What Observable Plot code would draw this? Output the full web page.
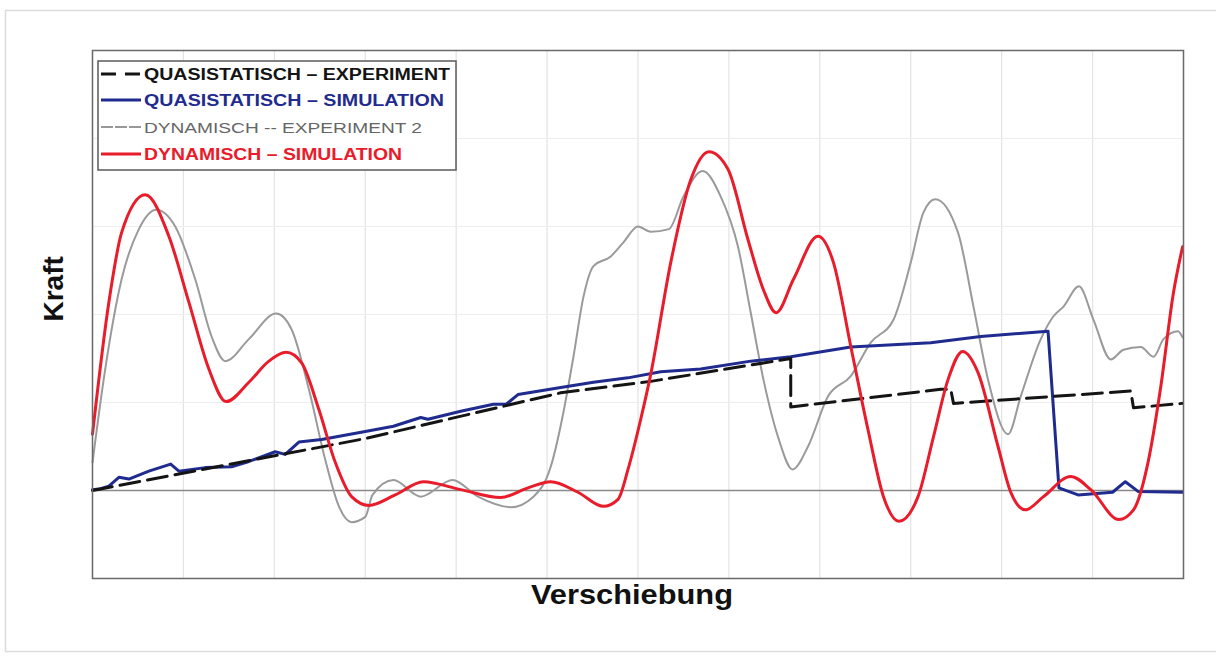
<!DOCTYPE html>
<html>
<head>
<meta charset="utf-8">
<script src="https://cdn.jsdelivr.net/npm/d3@7"></script>
<script src="https://cdn.jsdelivr.net/npm/@observablehq/plot@0.6"></script>
<style>
  html, body { margin: 0; padding: 0; background: #fff; }
  #chart { position: relative; width: 1216px; height: 658px; }
</style>
</head>
<body>
<div id="chart"></div>
<script>
// ---- data (x: Verschiebung in grid units, y: Kraft in grid units) ----
const seriesNames = [
  "QUASISTATISCH – EXPERIMENT",
  "QUASISTATISCH – SIMULATION",
  "DYNAMISCH -- EXPERIMENT 2",
  "DYNAMISCH – SIMULATION"
];
const xTicks = [0,1,2,3,4,5,6,7,8,9,10,11,12];
const yTicks = [-1,0,1,2,3,4,5];

const qsExpX = [0, 3.0, 5.15, 6.14, 7.68, 7.68, 9.33, 9.44, 9.47, 11.42, 11.45, 11.99];
const qsExpY = [0, 0.59, 1.11, 1.24, 1.50, 0.95, 1.15, 1.15, 0.99, 1.13, 0.94, 0.99];

const qsSimX = [0, 0.09, 0.18, 0.29, 0.40, 0.62, 0.86, 0.95, 1.24, 1.53, 1.72, 2.01, 2.12, 2.27, 2.52, 3.00, 3.31, 3.61, 3.69, 4.05, 4.41, 4.55, 4.68, 5.15, 5.51, 5.89, 6.25, 6.69, 7.24, 7.68, 8.34, 9.22, 9.77, 10.51, 10.63, 10.84, 11.22, 11.36, 11.50, 11.99];
const qsSimY = [0.01, 0.02, 0.05, 0.15, 0.13, 0.22, 0.30, 0.22, 0.26, 0.27, 0.33, 0.44, 0.41, 0.55, 0.58, 0.67, 0.73, 0.83, 0.81, 0.90, 0.98, 0.98, 1.09, 1.17, 1.23, 1.28, 1.35, 1.38, 1.47, 1.52, 1.63, 1.68, 1.75, 1.81, 0.03, -0.05, -0.02, 0.10, -0.01, -0.02];

const dynExpX = [0, 0.14, 0.32, 0.51, 0.70, 0.91, 1.13, 1.31, 1.46, 1.72, 2.02, 2.19, 2.38, 2.56, 2.71, 2.85, 3.00, 3.08, 3.31, 3.61, 3.96, 4.24, 4.60, 4.85, 5.04, 5.18, 5.29, 5.40, 5.51, 5.70, 5.84, 6.00, 6.14, 6.34, 6.50, 6.71, 6.91, 7.10, 7.24, 7.38, 7.54, 7.70, 7.87, 8.09, 8.34, 8.56, 8.81, 9.00, 9.14, 9.27, 9.52, 9.69, 9.85, 10.07, 10.21, 10.43, 10.57, 10.68, 10.85, 11.01, 11.20, 11.34, 11.53, 11.67, 11.78, 11.94, 11.99];
const dynExpY = [0.32, 1.38, 2.40, 2.97, 3.19, 3.00, 2.40, 1.75, 1.47, 1.72, 2.01, 1.83, 1.15, 0.35, -0.18, -0.36, -0.30, -0.05, 0.12, -0.07, 0.12, -0.07, -0.19, -0.07, 0.27, 0.89, 1.52, 2.20, 2.55, 2.66, 2.82, 3.00, 2.94, 2.97, 3.34, 3.63, 3.34, 2.77, 2.02, 1.26, 0.61, 0.24, 0.50, 1.07, 1.30, 1.68, 1.94, 2.59, 3.16, 3.31, 2.93, 2.09, 1.26, 0.64, 1.07, 1.72, 1.98, 2.09, 2.32, 1.94, 1.49, 1.60, 1.63, 1.52, 1.72, 1.81, 1.74];

const dynSimX = [0, 0.18, 0.32, 0.58, 0.84, 1.06, 1.28, 1.47, 1.72, 1.94, 2.13, 2.30, 2.49, 2.67, 2.85, 3.04, 3.33, 3.64, 4.05, 4.49, 4.79, 5.04, 5.34, 5.62, 5.78, 5.89, 6.03, 6.14, 6.36, 6.58, 6.78, 6.99, 7.21, 7.38, 7.52, 7.71, 7.98, 8.15, 8.34, 8.53, 8.70, 8.87, 9.08, 9.25, 9.41, 9.57, 9.74, 9.96, 10.10, 10.26, 10.46, 10.76, 10.98, 11.29, 11.45, 11.61, 11.75, 11.89, 11.99];
const dynSimY = [0.64, 2.14, 2.93, 3.36, 2.89, 2.14, 1.38, 1.01, 1.23, 1.47, 1.57, 1.45, 0.92, 0.32, -0.07, -0.17, -0.05, 0.10, 0.01, -0.08, 0.03, 0.10, -0.02, -0.18, -0.10, 0.24, 0.81, 1.32, 2.59, 3.53, 3.85, 3.65, 2.85, 2.28, 2.02, 2.40, 2.89, 2.59, 1.64, 0.69, -0.07, -0.35, -0.07, 0.61, 1.26, 1.58, 1.34, 0.50, -0.02, -0.22, -0.07, 0.16, 0.01, -0.33, -0.22, 0.32, 1.18, 2.25, 2.77];

const colors = ["#141414", "#1f2b8e", "#9a9a9a", "#e81c2a"];

const toRows = (xs, ys, s) => xs.map((x, i) => ({x, y: ys[i], s}));
const qsExp = toRows(qsExpX, qsExpY, seriesNames[0]);
const qsSim = toRows(qsSimX, qsSimY, seriesNames[1]);
const dynExp = toRows(dynExpX, dynExpY, seriesNames[2]);
const dynSim = toRows(dynSimX, dynSimY, seriesNames[3]);

const font = "'Liberation Sans', Arial, Helvetica, sans-serif";

const plot = Plot.plot({
  width: 1216,
  height: 658,
  marginLeft: 92,
  marginRight: 33,
  marginTop: 50,
  marginBottom: 80,
  style: {fontFamily: font, background: "white", overflow: "visible"},
  x: {domain: [0, 12], axis: null},
  y: {domain: [-1, 5], axis: null},
  marks: [
    Plot.gridX(xTicks, {stroke: "#e3e3e3", strokeOpacity: 1, strokeWidth: 1.2}),
    Plot.gridY(yTicks, {stroke: "#eeeeee", strokeOpacity: 1, strokeWidth: 1.2}),
    Plot.ruleY([0], {stroke: "#8a8a8a", strokeWidth: 1.6}),
    Plot.line(dynExp, {x: "x", y: "y", stroke: colors[2], strokeWidth: 2, curve: "monotone-x"}),
    Plot.line(qsSim, {x: "x", y: "y", stroke: colors[1], strokeWidth: 3, curve: "linear"}),
    Plot.line(qsExp, {x: "x", y: "y", stroke: colors[0], strokeWidth: 3, strokeDasharray: "20,8", curve: "linear"}),
    Plot.line(dynSim, {x: "x", y: "y", stroke: colors[3], strokeWidth: 3, curve: "monotone-x"}),
    Plot.frame({stroke: "#6a6a6a", strokeWidth: 1.5}),
    Plot.text(["Verschiebung"], {frameAnchor: "bottom", dx: -6, dy: 25, fontSize: 28, fontWeight: "bold", fill: "#111"}),
    Plot.text(["Kraft"], {frameAnchor: "left", dx: -38, dy: 7, rotate: -90, fontSize: 28, fontWeight: "bold", fill: "#111"})
  ]
});

document.getElementById("chart").appendChild(plot);

const svg = d3.select(plot);
// stretch axis label to match reference width
svg.selectAll("text").filter(function() { return this.textContent === "Verschiebung"; })
  .attr("textLength", 202).attr("lengthAdjust", "spacingAndGlyphs");

// outer light border
svg.insert("rect", ":first-child")
  .attr("x", 5.5).attr("y", 10.5).attr("width", 1216).attr("height", 641)
  .attr("fill", "none").attr("stroke", "#dcdcdc").attr("stroke-width", 1.5);

// legend
const lg = svg.append("g").attr("font-family", font).attr("text-anchor", "start");
lg.append("rect").attr("x", 98).attr("y", 61).attr("width", 358).attr("height", 109)
  .attr("fill", "white").attr("stroke", "#5a5a5a").attr("stroke-width", 1.5);
const legendY = [74, 100, 127, 154];
const legendW = [306, 300, 278, 258];
seriesNames.forEach((name, i) => {
  const y = legendY[i];
  const line = lg.append("line").attr("x1", 101).attr("x2", 141).attr("y1", y).attr("y2", y)
    .attr("stroke", colors[i]);
  if (i === 0) line.attr("stroke-width", 3).attr("stroke-dasharray", "15,9");
  else if (i === 2) line.attr("stroke-width", 1.5).attr("stroke-dasharray", "12,2").attr("stroke", "#777");
  else line.attr("stroke-width", 3);
  lg.append("text").attr("x", 144).attr("y", y + 6)
    .attr("text-anchor", "start")
    .attr("font-size", i === 2 ? 15 : 16)
    .attr("font-weight", i === 2 ? "normal" : "bold")
    .attr("fill", i === 2 ? "#666" : colors[i])
    .attr("textLength", legendW[i]).attr("lengthAdjust", "spacingAndGlyphs")
    .text(name);
});
</script>
</body>
</html>
